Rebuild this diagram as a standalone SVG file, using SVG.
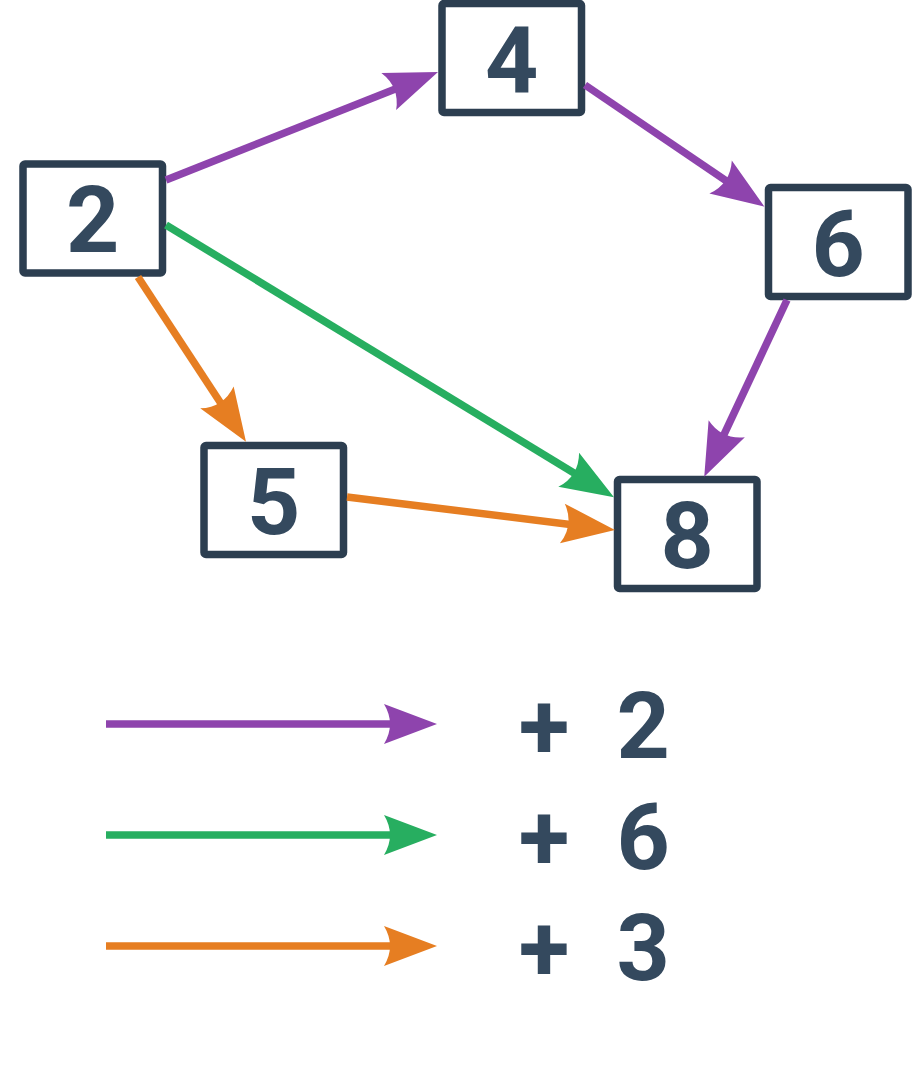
<svg xmlns="http://www.w3.org/2000/svg" width="912" height="1070" viewBox="0 0 912 1070">
<style>
.box{fill:#fff;stroke:#2c3e50;stroke-width:7.5}
.lbl{font-family:Roboto,"Liberation Sans",sans-serif;font-weight:bold;font-size:93px;fill:#34495e;text-anchor:middle}
.e{fill:none;stroke-width:7.5}
.p{stroke:#8e44ad}.g{stroke:#27ae60}.o{stroke:#e67e22}
</style>
<defs>
<marker id="ap" markerUnits="userSpaceOnUse" viewBox="-25 -25 60 50" refX="0" refY="0" markerWidth="60" markerHeight="50" orient="auto"><path d="M31,0 L-22,-20 Q-10,0 -22,20 Z" fill="#8e44ad"/></marker>
<marker id="ag" markerUnits="userSpaceOnUse" viewBox="-25 -25 60 50" refX="0" refY="0" markerWidth="60" markerHeight="50" orient="auto"><path d="M31,0 L-22,-20 Q-10,0 -22,20 Z" fill="#27ae60"/></marker>
<marker id="ao" markerUnits="userSpaceOnUse" viewBox="-25 -25 60 50" refX="0" refY="0" markerWidth="60" markerHeight="50" orient="auto"><path d="M31,0 L-22,-20 Q-10,0 -22,20 Z" fill="#e67e22"/></marker>
</defs>
<rect width="912" height="1070" fill="#fff"/>
<g id="n2"><rect class="box" x="23" y="164" width="139.5" height="109" rx="2"/><text class="lbl" x="92.75" y="252">2</text></g>
<g id="n4"><rect class="box" x="442" y="3.5" width="139.5" height="109" rx="2"/><text class="lbl" x="511.75" y="91.5">4</text></g>
<g id="n6"><rect class="box" x="768.5" y="187.5" width="139.5" height="109" rx="2"/><text class="lbl" x="838.25" y="275.5">6</text></g>
<g id="n5"><rect class="box" x="204" y="445.5" width="139.5" height="109" rx="2"/><text class="lbl" x="273.75" y="533.5">5</text></g>
<g id="n8"><rect class="box" x="617.5" y="479.5" width="139.5" height="109" rx="2"/><text class="lbl" x="687.25" y="567.5">8</text></g>
<g id="connectors">
<line class="e p" x1="166" y1="180" x2="409.2" y2="83.4" marker-end="url(#ap)"/>
<line class="e p" x1="585" y1="85" x2="738.8" y2="189.3" marker-end="url(#ap)"/>
<line class="e p" x1="787" y1="300" x2="717.4" y2="448.6" marker-end="url(#ap)"/>
<line class="e o" x1="138" y1="277" x2="229" y2="415.8" marker-end="url(#ao)"/>
<line class="e g" x1="166" y1="225" x2="587.5" y2="481.2" marker-end="url(#ag)"/>
<line class="e o" x1="347" y1="497" x2="584.2" y2="526.2" marker-end="url(#ao)"/>
</g>
<g id="legend">
<line class="e p" x1="106" y1="724" x2="406" y2="724" marker-end="url(#ap)"/>
<line class="e g" x1="106" y1="835" x2="406" y2="835" marker-end="url(#ag)"/>
<line class="e o" x1="106" y1="946" x2="406" y2="946" marker-end="url(#ao)"/>
<text class="lbl" y="757.5"><tspan x="544.2">+</tspan><tspan x="643.3">2</tspan></text>
<text class="lbl" y="868.5"><tspan x="544.2">+</tspan><tspan x="643.3">6</tspan></text>
<text class="lbl" y="979.5"><tspan x="544.2">+</tspan><tspan x="643.3">3</tspan></text>
</g>
</svg>
